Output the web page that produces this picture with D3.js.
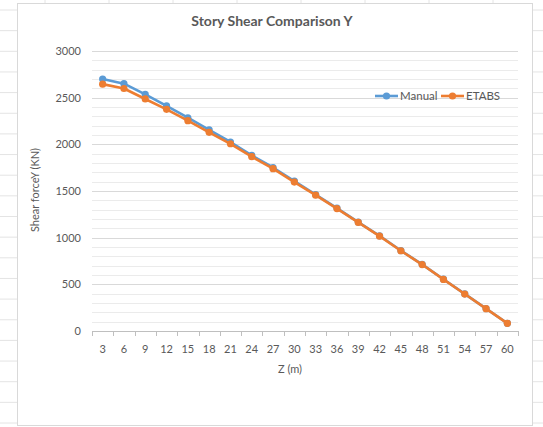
<!DOCTYPE html>
<html>
<head>
<meta charset="utf-8">
<script src="https://cdn.jsdelivr.net/npm/d3@7"></script>
<style>
  body { margin: 0; background: #fff; }
  text { font-family: Lato, "Open Sans", sans-serif; }
</style>
</head>
<body>
<div id="chart"></div>
<script>
// story heights (m) and shear force values (KN)
const zLabels = [3, 6, 9, 12, 15, 18, 21, 24, 27, 30, 33, 36, 39, 42, 45, 48, 51, 54, 57, 60];
const manual = [2700, 2650, 2535, 2412, 2285, 2154, 2025, 1882, 1752, 1607, 1462, 1317, 1167, 1020, 862, 714, 555, 398, 240, 83];
const etabs  = [2645, 2598, 2486, 2375, 2254, 2129, 2006, 1868, 1739, 1596, 1455, 1312, 1163, 1016, 860, 712, 553, 396, 239, 82];
const yTicks = [0, 500, 1000, 1500, 2000, 2500, 3000];
const seriesNames = ["Manual", "ETABS"];
const colors = ["#5b9bd5", "#ed7d31"];

const width = 543, height = 427;

const svg = d3.select("#chart").append("svg")
    .attr("width", width)
    .attr("height", height);

// spreadsheet cells behind the chart
const sheet = svg.append("g").attr("stroke", "#e4e4e4").attr("stroke-width", 1);
d3.range(10, height, 20.65).forEach(y => {
    sheet.append("line").attr("x1", 0).attr("x2", 17).attr("y1", y).attr("y2", y);
    sheet.append("line").attr("x1", 533).attr("x2", width).attr("y1", y).attr("y2", y);
});
d3.range(45, width, 64).forEach(x => {
    sheet.append("line").attr("x1", x).attr("x2", x).attr("y1", 0).attr("y2", 3);
});

// chart area
svg.append("rect")
    .attr("x", 17.5).attr("y", 3.5)
    .attr("width", 515).attr("height", 422)
    .attr("fill", "#fff")
    .attr("stroke", "#d9d9d9");

const x = d3.scaleBand().domain(zLabels).range([92, 518]);
const y = d3.scaleLinear().domain([0, 3000]).range([331, 51]);

// minor gridlines every 100
svg.append("g")
    .selectAll("line")
    .data(d3.range(100, 3001, 100).filter(v => v % 500 != 0))
    .join("line")
    .attr("x1", 92).attr("x2", 518)
    .attr("y1", d => Math.round(y(d)) + 0.5).attr("y2", d => Math.round(y(d)) + 0.5)
    .attr("stroke", "#ebebeb");

// major gridlines
svg.append("g")
    .selectAll("line")
    .data(yTicks.filter(v => v > 0))
    .join("line")
    .attr("x1", 92).attr("x2", 518)
    .attr("y1", d => Math.round(y(d)) + 0.5).attr("y2", d => Math.round(y(d)) + 0.5)
    .attr("stroke", "#d9d9d9");

// y tick labels
svg.append("g")
    .selectAll("text")
    .data(yTicks)
    .join("text")
    .attr("x", 81)
    .attr("y", d => y(d) + 4)
    .attr("text-anchor", "end")
    .attr("font-size", 11)
    .attr("fill", "#595959")
    .text(d => d);

// x axis line and ticks between categories
const xAxis = svg.append("g").attr("stroke", "#bfbfbf");
xAxis.append("line").attr("x1", 92).attr("x2", 518).attr("y1", 331.5).attr("y2", 331.5);
xAxis.selectAll("line.tick")
    .data(zLabels.concat(["end"]))
    .join("line")
    .attr("class", "tick")
    .attr("x1", (d, i) => Math.round(92 + i * x.bandwidth()) + 0.5)
    .attr("x2", (d, i) => Math.round(92 + i * x.bandwidth()) + 0.5)
    .attr("y1", 331).attr("y2", 336);

svg.append("g")
    .selectAll("text")
    .data(zLabels)
    .join("text")
    .attr("x", d => x(d) + x.bandwidth() / 2)
    .attr("y", 353)
    .attr("text-anchor", "middle")
    .attr("font-size", 11)
    .attr("fill", "#595959")
    .text(d => d);

// titles
svg.append("text")
    .attr("x", 272).attr("y", 26)
    .attr("text-anchor", "middle")
    .attr("font-size", 14)
    .attr("font-weight", "bold")
    .attr("fill", "#595959")
    .text("Story Shear Comparison Y");

svg.append("text")
    .attr("x", 290).attr("y", 373)
    .attr("text-anchor", "middle")
    .attr("font-size", 11)
    .attr("fill", "#595959")
    .text("Z (m)");

svg.append("text")
    .attr("transform", "translate(39,190) rotate(-90)")
    .attr("text-anchor", "middle")
    .attr("font-size", 11)
    .attr("fill", "#595959")
    .text("Shear forceY (KN)");

// series
const line = d3.line()
    .x((d, i) => x(zLabels[i]) + x.bandwidth() / 2)
    .y(d => y(d));

[manual, etabs].forEach((values, k) => {
    const g = svg.append("g");
    g.append("path")
        .attr("d", line(values))
        .attr("fill", "none")
        .attr("stroke", colors[k])
        .attr("stroke-width", 2.6)
        .attr("stroke-linejoin", "round");
    g.selectAll("circle")
        .data(values)
        .join("circle")
        .attr("cx", (d, i) => x(zLabels[i]) + x.bandwidth() / 2)
        .attr("cy", d => y(d))
        .attr("r", 3.6)
        .attr("fill", colors[k]);
});

// legend
const legendX = [375, 441];
seriesNames.forEach((name, k) => {
    const g = svg.append("g").attr("transform", `translate(${legendX[k]},96)`);
    g.append("line").attr("x1", 0).attr("x2", 23).attr("y1", 0).attr("y2", 0)
        .attr("stroke", colors[k]).attr("stroke-width", 2.6);
    g.append("circle").attr("cx", 11.5).attr("cy", 0).attr("r", 3.6).attr("fill", colors[k]);
    g.append("text").attr("x", 25).attr("y", 4)
        .attr("font-size", 11.5).attr("fill", "#595959").text(name);
});
</script>
</body>
</html>
